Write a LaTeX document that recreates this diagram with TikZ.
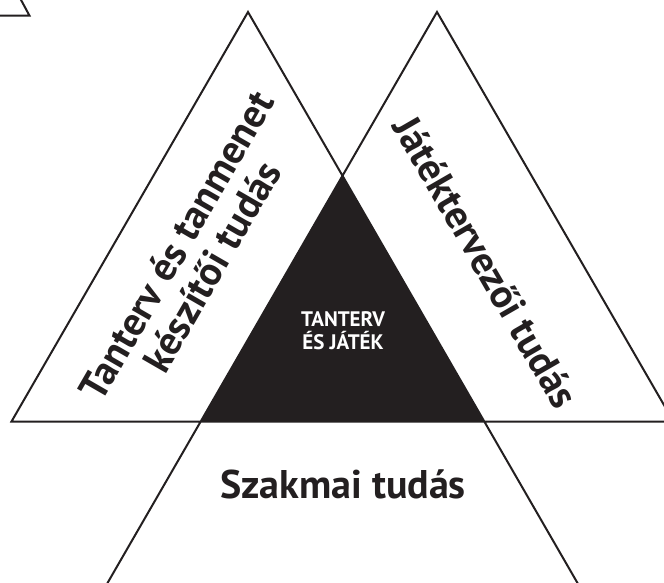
\documentclass[tikz,border=0pt]{standalone}
\usepackage{fontspec}
\setmainfont{PT Sans}
\definecolor{ink}{HTML}{231F20}

\begin{document}
\begin{tikzpicture}[x=1pt,y=-1pt]
  \tikzstyle{edge}=[draw=ink,line width=2pt]
  \tikzstyle{label}=[text=ink,font=\bfseries\fontsize{40}{41}\selectfont,align=center,inner sep=0pt]
  \tikzstyle{core}=[text=white,font=\bfseries\fontsize{21}{23}\selectfont,align=center,inner sep=0pt]

  \clip (0,0) rectangle (664,583);
  \fill[white] (0,0) rectangle (664,583);

  \coordinate (apexL) at (248,12);
  \coordinate (apexR) at (437,12);
  \coordinate (cornerL) at (11.5,421.5);
  \coordinate (cornerR) at (673.5,421.5);
  \coordinate (mid) at (342.5,175.8);
  \coordinate (innerL) at (200.7,421.5);
  \coordinate (innerR) at (484.3,421.5);
  \coordinate (footL) at (97.7,600);
  \coordinate (footR) at (587.3,600);

  % cut-off corner of the previous figure
  \coordinate (prevA) at (20,-2);
  \coordinate (prevB) at (29.5,15.7);
  \coordinate (prevC) at (-5,15.7);

  \fill[ink] (mid) -- (innerL) -- (innerR) -- cycle;

  \draw[edge] (footR) -- (apexL) -- (cornerL) -- (cornerR) -- (apexR) -- (footL);
  \draw[edge] (prevA) -- (prevB) -- (prevC);

  \node[label,rotate=60] (planning) at (194,256) {Tanterv és tanmenet\\készítői tudás};
  \node[label,rotate=-60] (design) at (486,262) {Játéktervezői tudás};
  \node[label] (subject) at (343,484) {Szakmai tudás};
  \node[core] (overlap) at (343,331) {TANTERV\\ÉS JÁTÉK};
\end{tikzpicture}
\end{document}
